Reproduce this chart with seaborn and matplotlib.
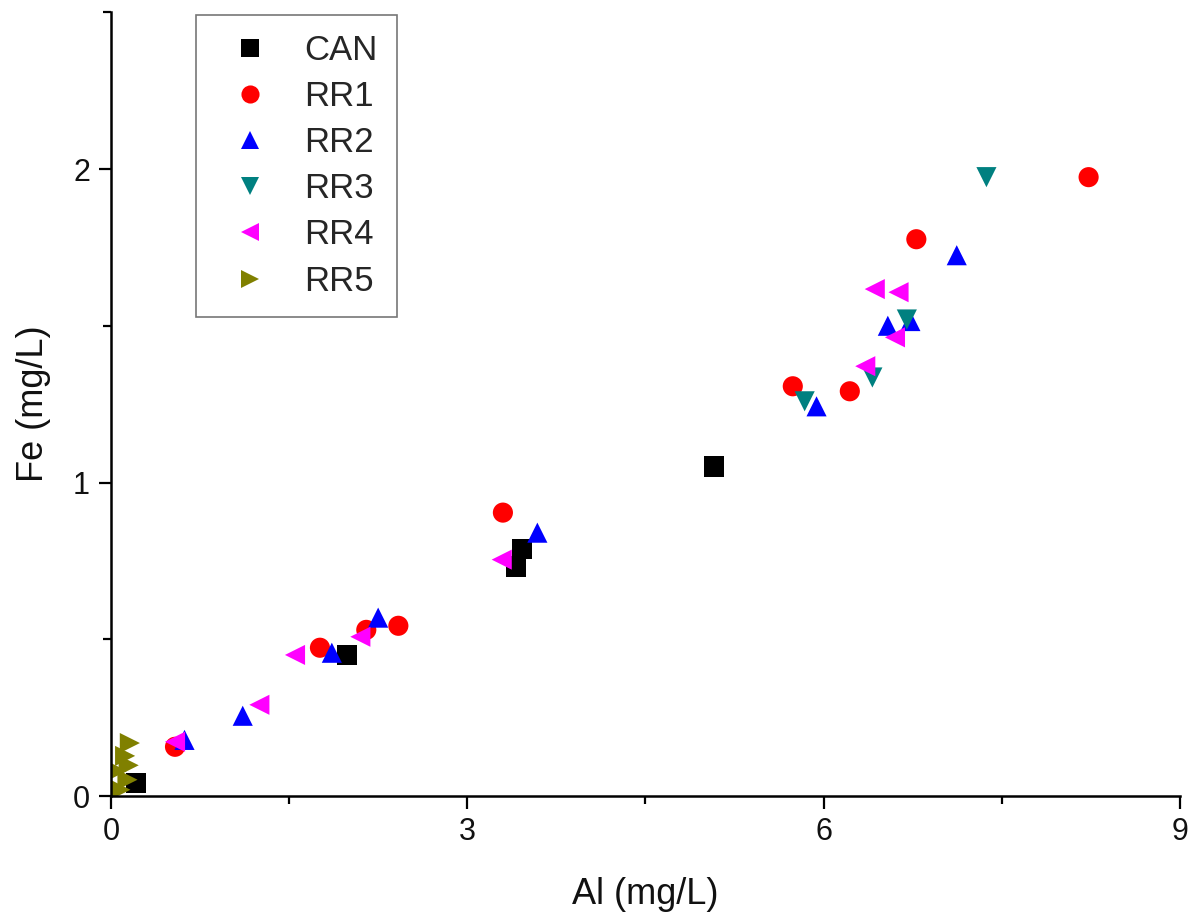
import matplotlib
matplotlib.use("Agg")
import matplotlib.pyplot as plt
from matplotlib.ticker import MultipleLocator
import seaborn as sns
import pandas as pd

# ---- data ----
can_al = [5.08, 3.46, 3.41, 1.99, 0.21]
can_fe = [1.051, 0.789, 0.732, 0.450, 0.042]

rr1_al = [8.23, 6.78, 5.74, 6.22, 3.30, 2.42, 2.15, 1.76, 0.54]
rr1_fe = [1.974, 1.776, 1.307, 1.291, 0.904, 0.543, 0.530, 0.473, 0.157]

rr2_al = [7.12, 6.54, 6.73, 5.94, 3.59, 2.25, 1.86, 1.11, 0.62]
rr2_fe = [1.725, 1.500, 1.515, 1.243, 0.840, 0.569, 0.457, 0.256, 0.179]

rr3_al = [7.37, 6.70, 6.41, 5.84]
rr3_fe = [1.974, 1.520, 1.335, 1.259]

rr4_al = [6.43, 6.63, 6.60, 6.35, 3.29, 2.10, 1.55, 1.25, 0.54]
rr4_fe = [1.617, 1.607, 1.463, 1.371, 0.754, 0.508, 0.450, 0.291, 0.173]

rr5_al = [0.16, 0.12, 0.15, 0.14, 0.08, 0.05]
rr5_fe = [0.169, 0.128, 0.098, 0.052, 0.020, 0.080]

groups = ["CAN", "RR1", "RR2", "RR3", "RR4", "RR5"]
colors = ["#000000", "#FF0000", "#0000FF", "#008080", "#FF00FF", "#808000"]
markers = ["s", "o", "^", "v", "<", ">"]

series = {
    "CAN": (can_al, can_fe),
    "RR1": (rr1_al, rr1_fe),
    "RR2": (rr2_al, rr2_fe),
    "RR3": (rr3_al, rr3_fe),
    "RR4": (rr4_al, rr4_fe),
    "RR5": (rr5_al, rr5_fe),
}
rows = []
for g in groups:
    for a, f in zip(*series[g]):
        rows.append({"Al": a, "Fe": f, "Sample": g})
df = pd.DataFrame(rows)

sns.set_theme(style="ticks")
plt.rcParams["font.family"] = ["Liberation Sans", "DejaVu Sans"]

fig = plt.figure(figsize=(11.92, 9.21), dpi=100)
ax = fig.add_axes([0.093, 0.1357, 0.897, 0.851])

sns.scatterplot(
    data=df, x="Al", y="Fe", hue="Sample", style="Sample",
    hue_order=groups, style_order=groups,
    palette=dict(zip(groups, colors)), markers=dict(zip(groups, markers)),
    s=210, linewidth=0, ax=ax,
)

ax.set_xlim(0, 9)
ax.set_ylim(0, 2.5)
ax.xaxis.set_major_locator(MultipleLocator(3))
ax.xaxis.set_minor_locator(MultipleLocator(1.5))
ax.yaxis.set_major_locator(MultipleLocator(1))
ax.yaxis.set_minor_locator(MultipleLocator(0.5))
ax.tick_params(which="major", direction="out", length=9, width=1.6,
               labelsize=22, color="black", labelcolor="#111111", pad=6)
ax.tick_params(which="minor", direction="out", length=6, width=1.6, color="black")
for side in ["top", "right"]:
    ax.spines[side].set_visible(False)
for side in ["left", "bottom"]:
    ax.spines[side].set_linewidth(1.8)
    ax.spines[side].set_color("black")

ax.set_xlabel("Al (mg/L)", fontsize=26, color="#111111", labelpad=22)
ax.set_ylabel("Fe (mg/L)", fontsize=26, color="#111111", labelpad=16)

leg = ax.legend(loc="upper left", bbox_to_anchor=(0.08, 0.997), fontsize=25,
                frameon=True, fancybox=False, edgecolor="#555555",
                markerscale=0.9, handletextpad=0.55, labelspacing=0.38,
                borderpad=0.55, borderaxespad=0.0)
leg.get_frame().set_linewidth(1.2)

fig.savefig("out.png", dpi=100)
